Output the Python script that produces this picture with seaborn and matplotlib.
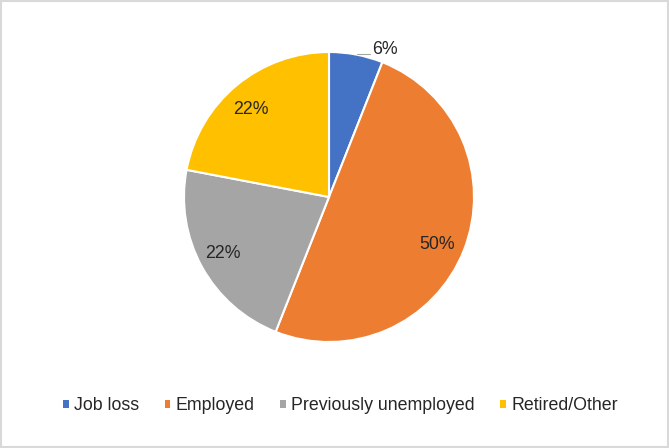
import numpy as np
import matplotlib
matplotlib.use("Agg")
import matplotlib.pyplot as plt
import seaborn as sns
from matplotlib.patches import Patch, Rectangle

categories = ["Job loss", "Employed", "Previously unemployed", "Retired/Other"]
shares = [6, 50, 22, 22]
colors = ["#4472C4", "#ED7D31", "#A5A5A5", "#FFC000"]

sns.set_theme(style="white")
plt.rcParams['font.family'] = ['Liberation Sans', 'DejaVu Sans']

text_color = "#262626"

fig = plt.figure(figsize=(6.69, 4.48), dpi=100)
fig.patch.set_facecolor("white")
fig.patches.append(Rectangle((0.002, 0.002), 0.996, 0.996, transform=fig.transFigure,
                             fill=False, edgecolor="#D9D9D9", linewidth=1.5))

ax = fig.add_axes([184 / 669, 106 / 448, 290 / 669, 290 / 448])
palette = sns.color_palette(colors)
wedges, _ = ax.pie(shares, colors=palette, startangle=90, counterclock=False,
                   radius=1, wedgeprops=dict(edgecolor="white", linewidth=1.5))
ax.set_xlim(-1, 1)
ax.set_ylim(-1, 1)
ax.set_aspect("equal")
ax.axis("off")

# label placement: (radius, angle offset in degrees) per slice
placement = [(1.09, -10), (0.81, -2), (0.83, -1), (0.81, 2)]
for w, val, (r, off) in zip(wedges, shares, placement):
    mid = np.deg2rad((w.theta1 + w.theta2) / 2 + off)
    ax.text(r * np.cos(mid), r * np.sin(mid), f"{val}%", ha="center", va="center",
            fontsize=12.8, color=text_color)

# leader line for the small slice
ax.plot([0.19, 0.28], [0.985, 0.985], color="#A6A6A6", linewidth=0.8, clip_on=False)

handles = [Patch(facecolor=c, edgecolor="none") for c in palette]
fig.legend(handles, categories, loc="center", bbox_to_anchor=(0.509, 0.094), ncol=4,
           frameon=False, fontsize=12.8, handlelength=0.3, handleheight=0.3,
           handletextpad=0.3, columnspacing=1.45, labelcolor=text_color)

fig.savefig("out.png", dpi=100)
